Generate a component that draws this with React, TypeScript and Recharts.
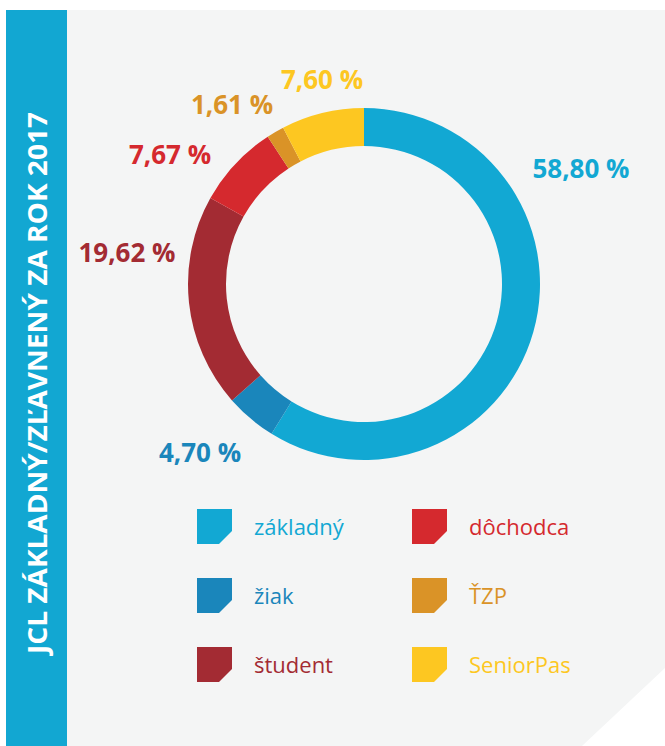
import React from "react";
import { PieChart, Pie, Legend } from "recharts";

// Údaje – JCL základný/zľavnený za rok 2017 (v %)
const CATEGORIES = ["základný", "žiak", "študent", "dôchodca", "ŤZP", "SeniorPas"];
const SHARES = [58.8, 4.7, 19.62, 7.67, 1.61, 7.6];
const COLORS = ["#12a8d3", "#1a86bb", "#a32b33", "#d5292e", "#da9327", "#fdc721"];

// posun popisov od stredu grafu
const LABEL_OFFSETS: Array<[number, number]> = [
  [217, -115],
  [-164, 169],
  [-237, -31],
  [-194, -129],
  [-132, -179],
  [-42, -204],
];

const W = 665;
const H = 746;
const FONT = "'Open Sans', 'Noto Sans', sans-serif";

const data = CATEGORIES.map((name, i) => ({ name, value: SHARES[i], fill: COLORS[i] }));

const fmt = (v: number) => v.toFixed(2).replace(".", ",") + " %";

function renderLabel(props: any) {
  const { cx, cy, index, value, fill } = props;
  const [dx, dy] = LABEL_OFFSETS[index];
  return (
    <text
      x={cx + dx}
      y={cy + dy + 9}
      textAnchor="middle"
      fill={fill}
      fontFamily={FONT}
      fontWeight={700}
      fontSize={26}
    >
      {fmt(value)}
    </text>
  );
}

function LegendIcon({ color }: { color: string }) {
  return (
    <svg width={35} height={35} style={{ display: "block", flex: "none" }}>
      <path d="M0 0 H35 V22 L22 35 H0 Z" fill={color} />
    </svg>
  );
}

function renderLegend(props: any) {
  const payload = [...(props.payload || [])].sort(
    (a: any, b: any) => CATEGORIES.indexOf(a.value) - CATEGORIES.indexOf(b.value)
  );
  return (
    <div
      style={{
        display: "grid",
        gridTemplateColumns: "215px 215px",
        gridTemplateRows: "repeat(3, 69px)",
        gridAutoFlow: "column",
      }}
    >
      {payload.map((item: any, i: number) => (
        <div key={i} style={{ display: "flex", alignItems: "center", height: 35 }}>
          <LegendIcon color={item.color} />
          <span
            style={{
              marginLeft: 22,
              color: item.color,
              fontFamily: FONT,
              fontSize: 22,
              lineHeight: "35px",
            }}
          >
            {item.value}
          </span>
        </div>
      ))}
    </div>
  );
}

export default function App() {
  return (
    <div style={{ position: "relative", width: W, height: H, background: "#fff" }}>
      <style>{"body{margin:0}"}</style>
      <svg width={W} height={H} style={{ position: "absolute", left: 0, top: 0 }}>
        <polygon points="6,10 665,10 665,668 582,746 6,746" fill="#f4f5f5" />
        <rect x={6} y={10} width={61} height={736} fill="#12a7d2" />
        <text
          transform="translate(47,383) rotate(-90)"
          textAnchor="middle"
          fill="#fff"
          fontFamily={FONT}
          fontWeight={700}
          fontSize={26}
          textLength={542}
          lengthAdjust="spacingAndGlyphs"
        >
          JCL ZÁKLADNÝ/ZĽAVNENÝ ZA ROK 2017
        </text>
      </svg>
      <div style={{ position: "absolute", left: 0, top: 0 }}>
        <PieChart width={W} height={H} margin={{ top: 0, right: 0, bottom: 0, left: 0 }}>
          <Pie
            data={data}
            dataKey="value"
            nameKey="name"
            cx={364}
            cy={284}
            innerRadius={138}
            outerRadius={176}
            startAngle={90}
            endAngle={-270}
            stroke="none"
            label={renderLabel}
            labelLine={false}
            isAnimationActive={false}
          />
          <Legend
            content={renderLegend}
            itemSorter={null as any}
            wrapperStyle={{ left: 197, top: 509, bottom: "auto", width: 430 }}
          />
        </PieChart>
      </div>
    </div>
  );
}
